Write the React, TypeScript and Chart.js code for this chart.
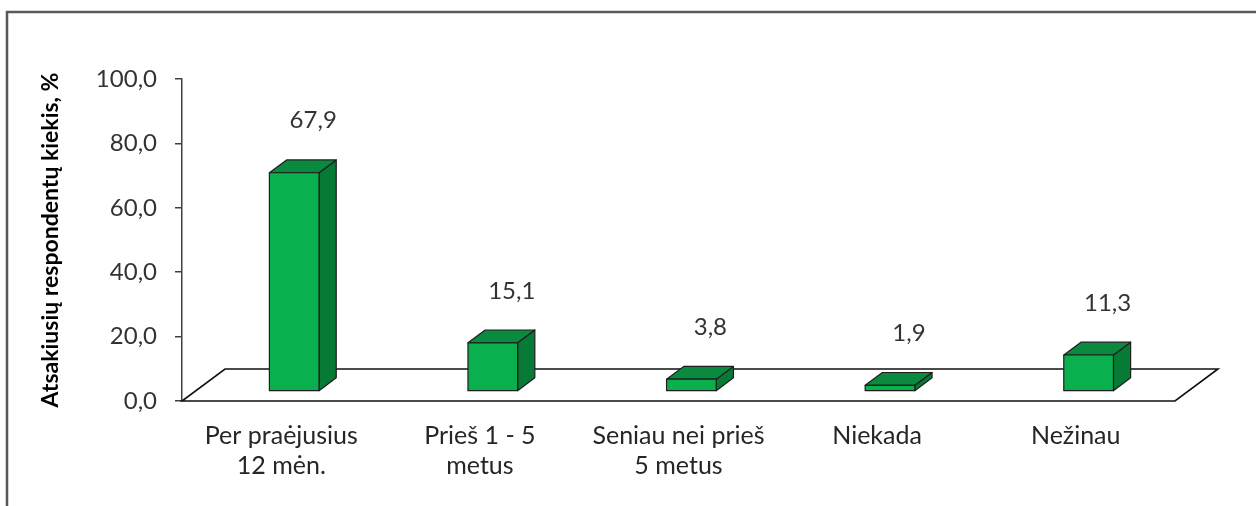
import React, { useEffect, useRef } from "react";
import { Chart, registerables } from "chart.js";

Chart.register(...registerables);

const categories: string[][] = [
  ["Per praėjusius", "12 mėn."],
  ["Prieš 1 - 5", "metus"],
  ["Seniau nei prieš", "5 metus"],
  ["Niekada"],
  ["Nežinau"],
];
const values: number[] = [67.9, 15.1, 3.8, 1.9, 11.3];
const valueLabels: string[] = ["67,9", "15,1", "3,8", "1,9", "11,3"];
const yMin = 0;
const yMax = 100;
const yStep = 20;
const yTitle = "Atsakiusių respondentų kiekis, %";

const FONT = "Lato, 'Open Sans', sans-serif";
const FRONT_COLOR = "#0BB04E";
const TOP_COLOR = "#0A8A3E";
const SIDE_COLOR = "#077A36";
const EDGE = "#1e1e1e";

// 3D floor depth vector and fractions
const DX = 43;
const DY = -32;
const FRONT_F = 0.3;
const BAR_F = 0.4;

const threeD = {
  id: "threeD",
  beforeDraw(chart: any) {
    const ctx = chart.ctx;
    ctx.save();
    ctx.strokeStyle = "#595959";
    ctx.lineWidth = 2.5;
    ctx.beginPath();
    ctx.moveTo(7, chart.height + 5);
    ctx.lineTo(7, 12);
    ctx.lineTo(chart.width + 5, 12);
    ctx.stroke();
    ctx.restore();
  },
  beforeDatasetsDraw(chart: any) {
    const ctx = chart.ctx;
    const { left, right } = chart.chartArea;
    const y0 = chart.scales.y.getPixelForValue(0);
    ctx.save();
    ctx.fillStyle = "#ffffff";
    ctx.strokeStyle = "#111";
    ctx.lineWidth = 1.6;
    ctx.beginPath();
    ctx.moveTo(left, y0);
    ctx.lineTo(right, y0);
    ctx.lineTo(right + DX, y0 + DY);
    ctx.lineTo(left + DX, y0 + DY);
    ctx.closePath();
    ctx.fill();
    ctx.stroke();
    ctx.restore();
  },
  afterDatasetsDraw(chart: any) {
    const ctx = chart.ctx;
    const meta = chart.getDatasetMeta(0);
    const fdx = FRONT_F * DX;
    const fdy = FRONT_F * DY;
    const bdx = BAR_F * DX;
    const bdy = BAR_F * DY;
    ctx.save();
    ctx.lineWidth = 1.2;
    ctx.strokeStyle = EDGE;
    ctx.lineJoin = "round";
    meta.data.forEach((bar: any, i: number) => {
      const { x, y, base, width } = bar.getProps(["x", "y", "base", "width"], true);
      const x0 = x - width / 2 + fdx;
      const x1 = x + width / 2 + fdx;
      const yt = y + fdy;
      const yb = base + fdy;
      // side
      ctx.fillStyle = SIDE_COLOR;
      ctx.beginPath();
      ctx.moveTo(x1, yt);
      ctx.lineTo(x1 + bdx, yt + bdy);
      ctx.lineTo(x1 + bdx, yb + bdy);
      ctx.lineTo(x1, yb);
      ctx.closePath();
      ctx.fill();
      ctx.stroke();
      // top
      ctx.fillStyle = TOP_COLOR;
      ctx.beginPath();
      ctx.moveTo(x0, yt);
      ctx.lineTo(x1, yt);
      ctx.lineTo(x1 + bdx, yt + bdy);
      ctx.lineTo(x0 + bdx, yt + bdy);
      ctx.closePath();
      ctx.fill();
      ctx.stroke();
      // front
      ctx.fillStyle = FRONT_COLOR;
      ctx.beginPath();
      ctx.rect(x0, yt, x1 - x0, yb - yt);
      ctx.fill();
      ctx.stroke();
      // value label
      ctx.fillStyle = "#333333";
      ctx.font = `24px ${FONT}`;
      ctx.textAlign = "center";
      ctx.textBaseline = "middle";
      ctx.fillText(valueLabels[i], x + fdx + 19, yt - 52);
    });
    ctx.restore();
  },
};

export default function App() {
  const ref = useRef<HTMLCanvasElement | null>(null);
  useEffect(() => {
    if (!ref.current) return;
    const chart = new Chart(ref.current, {
      type: "bar",
      data: {
        labels: categories,
        datasets: [
          {
            data: values,
            backgroundColor: "rgba(0,0,0,0)",
            borderWidth: 0,
            categoryPercentage: 1,
            barPercentage: 0.25,
          },
        ],
      },
      plugins: [threeD],
      options: {
        responsive: false,
        animation: false,
        events: [],
        layout: { padding: { left: 0, right: 81, top: 79, bottom: 0 } },
        plugins: { legend: { display: false }, tooltip: { enabled: false }, title: { display: false } },
        scales: {
          x: {
            grid: { display: false, drawTicks: false },
            border: { display: false },
            ticks: {
              color: "#262626",
              font: { family: FONT, size: 25, lineHeight: 1.2 },
              padding: 20,
              maxRotation: 0,
              autoSkip: false,
            },
            afterFit(scale: any) {
              scale.height = 105;
            },
          },
          y: {
            min: yMin,
            max: yMax,
            ticks: {
              stepSize: yStep,
              color: "#333333",
              font: { family: FONT, size: 24 },
              padding: 18,
              callback: (v: any) => Number(v).toFixed(1).replace(".", ","),
            },
            grid: { drawOnChartArea: false, drawTicks: true, tickLength: 7, color: "#404040", lineWidth: 1.5 },
            border: { display: true, color: "#404040", width: 1.5 },
            title: {
              display: true,
              text: yTitle,
              color: "#000000",
              font: { family: FONT, size: 23, weight: "bold" },
              padding: { top: 37, bottom: 0 },
            },
            afterFit(scale: any) {
              scale.width = 182;
            },
          },
        },
      },
    });
    return () => chart.destroy();
  }, []);
  return (
    <div style={{ position: "fixed", left: 0, top: 0, width: 1256, height: 506, background: "#fff" }}>
      <canvas ref={ref} width={1256} height={506} style={{ display: "block" }} />
    </div>
  );
}
